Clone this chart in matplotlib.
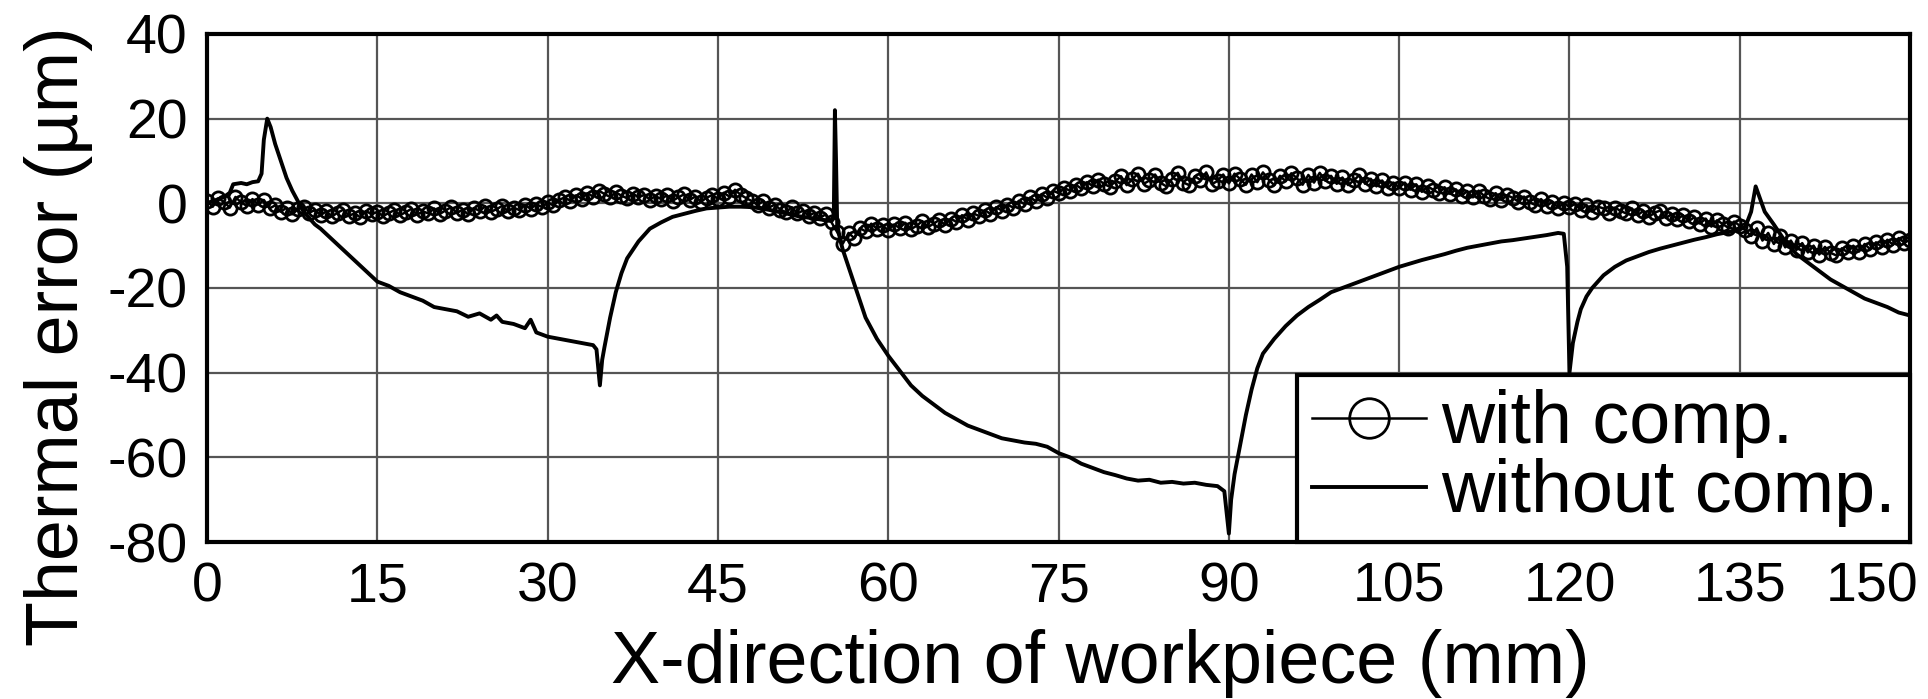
import matplotlib
matplotlib.use("Agg")
import matplotlib.pyplot as plt
import numpy as np
import matplotlib.transforms as mtransforms

plt.rcParams['font.family'] = ['Liberation Sans', 'DejaVu Sans']
plt.rcParams['axes.unicode_minus'] = False

# ---- data: with compensation (x every 0.5 mm from 0 to 150) ----
with_comp_x = [i * 0.5 for i in range(301)]
with_comp_y = [
    0.5, -0.8, 1.2, 0.3, -1.0, 1.5, 0.2, -0.6, 1.0, -0.3,
    0.8, -1.2, -0.5, -2.0, -1.0, -2.6, -1.4, -0.8, -2.2, -1.6,
    -2.8, -1.9, -3.1, -2.2, -1.5, -2.9, -2.4, -3.3, -1.8, -2.6,
    -2.0, -3.0, -2.3, -1.6, -2.8, -2.1, -1.3, -2.7, -1.9, -2.4,
    -1.2, -2.5, -1.7, -0.9, -2.3, -1.5, -2.6, -1.1, -1.8, -0.7,
    -2.0, -1.4, -0.6, -1.9, -1.0, -1.6, -0.4, -1.3, -0.2, -0.9,
    0.2, -0.5, 0.8, 1.4, 0.6, 1.9, 1.1, 2.4, 1.6, 3.0,
    2.2, 1.5, 2.6, 1.8, 1.2, 2.3, 1.4, 2.0, 0.9, 1.7,
    1.0, 1.9, 0.6, 1.4, 2.1, 0.8, 1.6, 0.4, 1.3, 2.0,
    1.1, 2.5, 1.6, 3.2, 2.0, 1.2, 0.5, -0.4, 0.6, -1.0,
    -0.3, -1.5, -2.1, -0.9, -2.4, -1.7, -3.0, -2.2, -3.4, -2.6,
    -4.5, -6.8, -9.5, -7.0, -8.2, -5.9, -6.6, -4.8, -6.0, -5.2,
    -6.4, -5.0, -5.8, -4.6, -6.1, -5.3, -4.2, -5.6, -4.8, -3.9,
    -5.1, -3.6, -4.4, -2.8, -3.9, -2.4, -3.0, -1.6, -2.5, -0.9,
    -1.7, -0.3, -1.0, 0.6, -0.2, 1.4, 0.5, 2.2, 1.3, 3.0,
    2.4, 3.6, 3.0, 4.4, 3.5, 5.0, 4.1, 5.6, 4.6, 3.9,
    5.2, 6.4, 4.3, 5.7, 7.0, 4.6, 5.4, 6.8, 4.8, 4.0,
    5.8, 7.2, 4.9, 4.3, 6.4, 5.5, 7.3, 4.5, 5.3, 6.8,
    4.7, 7.0, 5.7, 4.4, 6.8, 5.0, 7.3, 5.6, 4.3, 6.5,
    5.2, 7.1, 5.9, 4.4, 6.7, 4.9, 7.2, 5.3, 6.5, 4.6,
    6.1, 4.3, 5.4, 6.7, 4.6, 5.8, 4.0, 5.4, 3.6, 4.9,
    3.7, 4.9, 3.2, 4.5, 2.7, 4.0, 3.2, 2.4, 3.8, 2.2,
    3.3, 1.8, 2.9, 1.4, 3.0, 1.7, 1.0, 2.4, 0.8, 1.9,
    1.3, 0.4, 1.6, 0.2, -0.4, 1.0, -0.6, 0.4, -1.0, 0.1,
    -0.9, -0.1, -1.6, -0.4, -2.0, -0.8, -1.2, -2.2, -1.0, -1.8,
    -2.4, -1.2, -2.8, -1.8, -3.2, -2.2, -1.7, -3.5, -2.5, -3.8,
    -2.8, -4.2, -3.3, -4.8, -3.6, -5.5, -4.0, -4.9, -5.8, -4.3,
    -5.3, -6.4, -7.7, -5.9, -8.8, -7.0, -9.6, -7.8, -10.4, -8.8,
    -11.0, -9.4, -11.6, -10.0, -12.1, -10.3, -11.7, -12.3, -10.6, -11.6,
    -10.0, -11.4, -9.6, -10.9, -9.2, -10.3, -8.6, -9.8, -8.2, -9.3,
    -8.6,
]

# ---- data: without compensation ----
without_comp_x = [
    0, 0.5, 1, 1.5, 2, 2.3, 3, 3.5, 4, 4.5, 4.8, 5.0, 5.3, 5.6, 6, 6.5, 7, 7.5, 8, 8.5,
    9, 9.5, 10, 11, 12, 13, 14, 15, 16, 17, 18, 19, 20, 21, 22, 23, 24, 25, 25.5, 26,
    27, 28, 28.5, 29, 30, 31, 32, 33, 34, 34.3, 34.6, 34.8, 35, 35.5, 36, 36.5, 37, 38, 39, 40,
    41, 42, 43, 44, 45, 46, 47, 48, 49, 50, 51, 52, 53, 54, 55, 55.2, 55.3, 55.4, 55.5, 55.8,
    56, 56.5, 57, 57.5, 58, 59, 60, 61, 62, 63, 64, 65, 66, 67, 68, 69, 70, 71, 72, 73,
    74, 75, 76, 77, 78, 79, 80, 81, 82, 83, 84, 85, 86, 87, 88, 89, 89.6, 90, 90.2, 90.5,
    91, 91.5, 92, 92.5, 93, 94, 95, 96, 97, 98, 99, 100, 101, 102, 103, 104, 105, 106, 107, 108,
    109, 110, 111, 112, 113, 114, 115, 116, 117, 118, 119, 119.5, 119.8, 120, 120.3, 120.7, 121, 121.5, 122, 123,
    124, 125, 126, 127, 128, 129, 130, 131, 132, 133, 134, 135, 135.5, 136, 136.4, 136.8, 137.2, 138, 139, 140,
    141, 142, 143, 144, 145, 146, 147, 148, 149, 150,
]
without_comp_y = [
    0, 0.5, 1, 1.5, 2.5, 4.5, 4.8, 4.5, 5, 5.2, 7, 15, 20, 18, 14, 10, 6, 3, 0.5, -2,
    -3.5, -5, -6, -8.5, -11, -13.5, -16, -18.5, -19.5, -21, -22, -23, -24.5, -25, -25.5, -26.8, -26, -27.5, -26.5, -28,
    -28.5, -29.5, -27.5, -30.5, -31.5, -32, -32.5, -33, -33.5, -34.5, -43, -37, -34, -27, -21, -16.5, -13, -9, -6, -4.5,
    -3.2, -2.5, -1.8, -1.2, -1, -0.8, -0.8, -0.9, -1.3, -1.8, -2.4, -3, -3.4, -3.8, -4.2, -3.5, 22, 10, -5, -9,
    -11, -15, -19, -23, -27, -32, -36, -39.5, -43, -45.5, -47.5, -49.5, -51, -52.5, -53.5, -54.5, -55.5, -56, -56.5, -56.8,
    -57.5, -59, -60, -61.5, -62.5, -63.5, -64.2, -65, -65.5, -65.3, -66, -65.8, -66.2, -66, -66.5, -66.8, -68, -78, -70, -64,
    -57, -50, -44, -39, -35.5, -32, -29, -26.5, -24.5, -22.8, -21, -20, -19, -18, -17, -16, -15, -14.2, -13.4, -12.7,
    -12, -11.2, -10.5, -10, -9.5, -9, -8.7, -8.3, -7.9, -7.5, -7, -7.2, -15, -40, -33, -28, -25, -22, -20, -17,
    -15, -13.5, -12.5, -11.5, -10.7, -10, -9.3, -8.6, -8, -7.3, -6.8, -6.2, -5.5, -2, 4, 1, -2, -5, -9, -12,
    -14, -16, -18, -19.5, -21, -22.5, -23.5, -24.5, -25.8, -26.5,
]

x_ticks = [0, 15, 30, 45, 60, 75, 90, 105, 120, 135, 150]
y_ticks = [-80, -60, -40, -20, 0, 20, 40]

fig = plt.figure(figsize=(19.28, 6.99), dpi=100)
ax = fig.add_axes([0.1074, 0.2246, 0.9907 - 0.1074, 0.9514 - 0.2246])

ax.plot(without_comp_x, without_comp_y, color='black', lw=2.8, label='without comp.', zorder=3)
ax.plot(with_comp_x, with_comp_y, color='black', lw=1.8, marker='o', ms=9.5,
        mfc='none', mec='black', mew=2.0, label='with comp.', zorder=4)

ax.set_xlim(0, 150)
ax.set_ylim(-80, 40)
ax.set_xticks(x_ticks)
ax.set_yticks(y_ticks)
ax.grid(True, color='#555555', lw=1.6)
ax.set_axisbelow(True)
for s in ax.spines.values():
    s.set_linewidth(3)
    s.set_color('black')
    s.set_zorder(6)
ax.tick_params(axis='both', length=0, labelsize=40, pad=14)

# last x tick label shifted left to stay inside the figure
lbls = ax.get_xticklabels()
off = mtransforms.ScaledTranslation(-38 / 100, 0, fig.dpi_scale_trans)
lbls[-1].set_transform(lbls[-1].get_transform() + off)

handles, labels = ax.get_legend_handles_labels()
leg = ax.legend([handles[1], handles[0]], [labels[1], labels[0]], loc='lower right',
                borderaxespad=0, fontsize=53, frameon=True, fancybox=False,
                framealpha=1, edgecolor='black', handlelength=1.55, handletextpad=0.2,
                labelspacing=0.0, borderpad=0.2, markerscale=3.0)
leg.get_frame().set_linewidth(3)
leg.set_zorder(10)

fig.text(1100 / 1928, 1 - 683 / 699, 'X-direction of workpiece (mm)', fontsize=53,
         ha='center', va='baseline')
fig.text(78 / 1928, 1 - 336.5 / 699, 'Thermal error (µm)', fontsize=53, rotation=90,
         rotation_mode='anchor', ha='center', va='baseline')

fig.savefig('out.png', dpi=100)
